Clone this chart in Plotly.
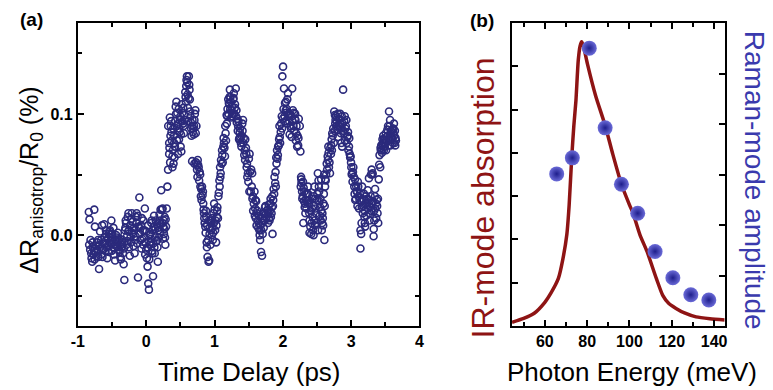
import plotly.graph_objects as go

# ---------------- Panel (a): anisotropic reflectivity vs time delay ----------------
delay_ps = [
    -0.84, -0.83, -0.82, -0.80, -0.78, -0.77, -0.76, -0.75, -0.74, -0.72, -0.70, -0.69,
    -0.66, -0.65, -0.64, -0.63, -0.61, -0.60, -0.59, -0.58, -0.56, -0.55, -0.54, -0.53,
    -0.51, -0.50, -0.49, -0.48, -0.47, -0.45, -0.44, -0.43, -0.42, -0.41, -0.40, -0.39,
    -0.38, -0.36, -0.35, -0.33, -0.32, -0.31, -0.30, -0.29, -0.28, -0.27, -0.26, -0.25,
    -0.24, -0.23, -0.22, -0.21, -0.19, -0.18, -0.17, -0.16, -0.15, -0.14, -0.12, -0.11,
    -0.10, -0.09, -0.07, -0.06, -0.05, -0.04, -0.02, -0.01, 0.00, 0.01, 0.02, 0.03,
    0.04, 0.05, 0.06, 0.07, 0.08, 0.09, 0.10, 0.11, 0.12, 0.13, 0.14, 0.16,
    0.17, 0.18, 0.19, 0.20, 0.21, 0.22, 0.23, 0.24, 0.25, 0.26, 0.27, 0.28,
    0.29, 0.31, 0.32,
    0.336, 0.336, 0.322, 0.346, 0.36, 0.37, 0.384, 0.384, 0.40, 0.41, 0.42, 0.432,
    0.442, 0.447, 0.456, 0.466, 0.48, 0.49, 0.495, 0.504, 0.514, 0.528, 0.538, 0.543,
    0.552, 0.567, 0.576, 0.586, 0.596, 0.60, 0.61, 0.624, 0.634, 0.639, 0.648, 0.658,
    0.672, 0.682, 0.696, 0.706, 0.72, 0.735, 0.672, 0.706, 0.744, 0.754, 0.768, 0.783,
    0.793, 0.80, 0.817, 0.83, 0.84, 0.85, 0.865, 0.879, 0.889, 0.898, 0.913, 0.922,
    0.927, 0.937, 0.946, 0.96, 0.975, 0.985, 0.994, 1.009, 1.023, 1.033, 1.042, 1.057,
    1.071, 1.081, 1.09, 1.105, 1.114, 1.129, 1.138, 1.153, 1.162, 1.177, 1.186, 1.201,
    1.21, 1.225, 1.234, 1.249, 1.258, 1.273, 1.282, 1.297, 1.311, 1.321, 1.335, 1.345,
    1.359, 1.369, 1.378, 1.393, 1.407, 1.417, 1.427, 1.441, 1.45, 1.465, 1.475, 1.489,
    1.503, 1.513, 1.537, 1.551, 1.561, 1.585, 1.599, 1.609, 1.619, 1.633, 1.647, 1.657,
    1.667, 1.681, 1.695, 1.705, 1.715, 1.729, 1.739, 1.753, 1.777, 1.792, 1.801, 1.816,
    1.825, 1.84, 1.849, 1.859, 1.873, 1.888, 1.897, 1.907, 1.921, 1.931, 1.945, 1.955,
    1.969, 1.984, 1.993, 2.003, 2.017, 2.032, 2.041, 2.051, 2.065, 2.075, 2.089, 2.099,
    2.113, 2.128, 2.137, 2.147, 2.161, 2.176, 2.185, 2.195, 2.209, 2.224, 2.233, 2.248,
    2.257, 2.267, 2.272, 2.281, 2.291, 2.305, 2.32, 2.33, 2.339, 2.354, 2.368, 2.378,
    2.387, 2.402, 2.416, 2.426, 2.435, 2.45, 2.464, 2.474, 2.488, 2.498, 2.512, 2.522,
    2.531, 2.546, 2.555, 2.57, 2.579, 2.594, 2.608, 2.618, 2.627, 2.642, 2.656, 2.666,
    2.675, 2.69, 2.704, 2.714, 2.723, 2.738, 2.752, 2.762, 2.771, 2.786, 2.80, 2.81,
    2.819, 2.834, 2.848, 2.858, 2.867, 2.882, 2.896, 2.906, 2.915, 2.93, 2.944, 2.954,
    2.968, 2.978, 2.992, 3.002, 3.012, 3.026, 3.04, 3.05, 3.06, 3.074, 3.088, 3.098,
    3.108, 3.122, 3.136, 3.136, 3.146, 3.156, 3.17, 3.184, 3.194, 3.204, 3.218, 3.232,
    3.242, 3.252, 3.266, 3.28, 3.29, 3.30, 3.314, 3.328, 3.338, 3.348, 3.362, 3.377,
    3.386, 3.396, 3.41, 3.425, 3.434, 3.444, 3.458, 3.473, 3.482, 3.492, 3.506, 3.516,
    3.53, 3.54, 3.554, 3.569, 3.578, 3.588, 3.602, 3.617, 3.626, 3.636, 3.65,
    # additional readings
    -0.835, -0.815, -0.805, -0.79, -0.785, -0.765, -0.755, -0.735, -0.725, -0.715,
    -0.705, -0.68, -0.675, -0.655, -0.645, -0.625, -0.615, -0.595, -0.585, -0.57,
    -0.565, -0.545, -0.535, -0.52, -0.515, -0.505, -0.495, -0.475, -0.465, -0.455,
    -0.435, -0.425, -0.415, -0.395, -0.385, -0.37, -0.365, -0.345, -0.34, -0.325,
    -0.305, -0.295, -0.275, -0.265, -0.255, -0.235, -0.225, -0.205, -0.2, -0.185,
    -0.175, -0.155, -0.145, -0.13, -0.125, -0.105, -0.085, -0.075, -0.065, -0.045,
    -0.035, -0.025, -0.015, 0.005, 0.015, 0.025, 0.045, 0.055, 0.065, 0.075,
    0.085, 0.095, 0.105, 0.115, 0.125, 0.135, 0.15, 0.155, 0.165, 0.175,
    0.185, 0.195, 0.205, 0.215, 0.235, 0.245, 0.255, 0.265, 0.275, 0.285,
    0.3,
    0.34, 0.35, 0.355, 0.365, 0.375, 0.39, 0.395, 0.405, 0.415, 0.425,
    0.437, 0.45, 0.46, 0.47, 0.475, 0.485, 0.5, 0.51, 0.52, 0.533,
    0.548, 0.558, 0.572, 0.58, 0.59, 0.605, 0.615, 0.62, 0.63, 0.643,
    0.653, 0.663, 0.677, 0.69, 0.70, 0.712, 0.725, 0.73, 0.74, 0.75,
    0.76, 0.775, 0.79, 0.805, 0.81, 0.825, 0.835, 0.845, 0.855, 0.87,
    0.875, 0.885, 0.893, 0.905, 0.917, 0.93, 0.94, 0.952, 0.965, 0.97,
    0.98, 0.99, 1.0, 1.015, 1.028, 1.038, 1.05, 1.063, 1.075, 1.085,
    1.095, 1.11, 1.12, 1.133, 1.145, 1.157, 1.168, 1.18, 1.19, 1.205,
    1.215, 1.22, 1.23, 1.24, 1.245, 1.255, 1.265, 1.278, 1.29, 1.30,
    1.315, 1.325, 1.34, 1.35, 1.365, 1.373, 1.385, 1.398, 1.41, 1.42,
    1.435, 1.447, 1.46, 1.47, 1.48, 1.495, 1.51, 1.52, 1.53, 1.545,
    1.555, 1.565, 1.575, 1.59, 1.595, 1.605, 1.615, 1.625, 1.64, 1.65,
    1.66, 1.672, 1.685, 1.69, 1.70, 1.71, 1.72, 1.735, 1.745, 1.76,
    1.77, 1.782, 1.79, 1.805, 1.81, 1.82, 1.835, 1.845, 1.855, 1.865,
    1.878, 1.893, 1.903, 1.915, 1.927, 1.94, 1.95, 1.96, 1.975, 1.988,
    2.0, 2.01, 2.025, 2.037, 2.045, 2.058, 2.07, 2.082, 2.094, 2.105,
    2.12, 2.132, 2.142, 2.155, 2.168, 2.18, 2.19, 2.2, 2.215, 2.228,
    2.262, 2.27, 2.285, 2.295, 2.31, 2.315, 2.325, 2.335, 2.345, 2.36,
    2.37, 2.383, 2.39, 2.408, 2.42, 2.43, 2.44, 2.455, 2.46, 2.47,
    2.48, 2.493, 2.505, 2.515, 2.527, 2.54, 2.55, 2.56, 2.575, 2.585,
    2.59, 2.6, 2.613, 2.62, 2.605, 2.56, 2.53, 2.45, 2.39, 2.30,
    2.635, 2.648, 2.66, 2.67, 2.683, 2.695, 2.708, 2.718, 2.73, 2.745,
    2.757, 2.767, 2.778, 2.79, 2.805, 2.815, 2.825, 2.84, 2.853, 2.862,
    2.875, 2.888, 2.90, 2.91, 2.922, 2.935, 2.948, 2.96, 2.972, 2.985,
    2.998, 3.008, 3.02, 3.032, 3.045, 3.055, 3.068, 3.08, 3.092, 3.104,
    3.115, 3.128, 3.14, 3.152, 3.162, 3.176, 3.188, 3.198, 3.21, 3.224,
    3.236, 3.246, 3.258, 3.27, 3.285, 3.295, 3.308, 3.32, 3.335, 3.352,
    3.366, 3.38, 3.392, 3.404, 3.35, 3.33, 3.31, 3.26, 3.20, 3.16,
    3.415, 3.43, 3.44, 3.45, 3.462, 3.47, 3.478, 3.487, 3.497, 3.51,
    3.52, 3.535, 3.545, 3.56, 3.565, 3.575, 3.583, 3.595, 3.608, 3.62,
    3.63, 3.64, 3.645, 3.655,
]
delta_r_pct = [
    0.019, 0.013, -0.012, -0.019, -0.010, -0.016, 0.021, 0.007, -0.014, -0.006, -0.018, -0.028,
    -0.004, -0.011, -0.018, -0.012, -0.002, -0.007, 0.004, -0.010, -0.003, 0.001, -0.006, 0.004,
    0.012, 0.001, -0.010, 0.006, -0.016, -0.004, 0.000, -0.002, -0.010, -0.006, -0.004, -0.014,
    -0.018, -0.010, -0.006, -0.024, -0.037, 0.004, 0.012, -0.008, -0.001, 0.015, 0.018, 0.004,
    -0.017, -0.002, 0.013, 0.018, 0.001, 0.006, -0.015, -0.004, 0.015, 0.018, -0.035, 0.007,
    0.031, 0.001, -0.011, -0.003, 0.004, 0.012, 0.022, -0.006, -0.012, -0.019, -0.026, -0.040,
    -0.045, -0.008, 0.001, -0.003, 0.012, -0.015, -0.034, 0.007, -0.010, -0.002, 0.012, -0.004,
    -0.022, 0.004, 0.010, 0.012, 0.021, 0.037, 0.021, 0.022, 0.007, 0.001, 0.015, -0.008,
    0.007, 0.040, 0.054,
    0.067, 0.076, 0.090, 0.097, 0.090, 0.085, 0.065, 0.056, 0.059, 0.076, 0.073, 0.106,
    0.110, 0.090, 0.101, 0.067, 0.079, 0.085, 0.095, 0.073, 0.069, 0.101, 0.092, 0.105,
    0.084, 0.095, 0.114, 0.123, 0.131, 0.126, 0.105, 0.131, 0.120, 0.112, 0.098, 0.088,
    0.090, 0.085, 0.083, 0.095, 0.103, 0.090, 0.061, 0.059, 0.054, 0.062, 0.056, 0.052,
    0.040, 0.032, 0.040, 0.036, 0.021, 0.014, 0.007, 0.015, -0.010, -0.018, -0.022, -0.021,
    0.001, 0.012, 0.004, 0.000, -0.004, 0.018, 0.026, 0.004, -0.006, 0.015, 0.023, 0.032,
    0.045, 0.056, 0.051, 0.059, 0.066, 0.073, 0.076, 0.065, 0.084, 0.099, 0.098, 0.112,
    0.109, 0.120, 0.114, 0.103, 0.098, 0.112, 0.117, 0.105, 0.121, 0.103, 0.096, 0.090,
    0.079, 0.085, 0.081, 0.073, 0.092, 0.095, 0.080, 0.070, 0.079, 0.067, 0.059, 0.051,
    0.063, 0.067, 0.054, 0.051, 0.032, 0.036, 0.029, 0.028, 0.018, 0.012, 0.010, 0.004,
    -0.004, -0.014, -0.017, 0.001, 0.012, 0.018, 0.023, 0.018, 0.021, 0.025, 0.014, 0.026,
    0.015, 0.023, 0.001, 0.029, 0.034, 0.043, 0.040, 0.059, 0.063, 0.073, 0.079, 0.081,
    0.085, 0.098, 0.131, 0.139, 0.121, 0.109, 0.103, 0.101, 0.112, 0.117, 0.098, 0.083,
    0.090, 0.081, 0.121, 0.103, 0.101, 0.096, 0.095, 0.084, 0.073, 0.074, 0.096, 0.090,
    0.069, 0.048, 0.043, 0.036, 0.032, 0.039, 0.023, 0.018, 0.029, 0.034, 0.040, 0.029,
    0.018, 0.007, 0.001, 0.022, 0.015, 0.032, 0.040, 0.030, 0.018, 0.029, 0.051, 0.045,
    0.036, 0.023, 0.012, 0.004, 0.018, 0.026, -0.004, 0.040, 0.045, 0.059, 0.065, 0.073,
    0.056, 0.051, 0.067, 0.079, 0.084, 0.088, 0.102, 0.099, 0.095, 0.090, 0.087, 0.081,
    0.090, 0.092, 0.084, 0.076, 0.073, 0.120, 0.084, 0.098, 0.088, 0.095, 0.081, 0.085,
    0.073, 0.067, 0.065, 0.056, 0.051, 0.052, 0.048, 0.034, 0.029, 0.040, 0.036, 0.044,
    0.032, 0.029, 0.004, -0.011, 0.001, 0.023, 0.018, 0.029, 0.015, 0.007, 0.032, 0.026,
    0.037, 0.029, 0.018, 0.023, 0.050, 0.054, 0.051, -0.001, 0.012, 0.032, 0.026, 0.029,
    0.018, 0.010, 0.058, 0.056, 0.070, 0.070, 0.079, 0.076, 0.079, 0.073, 0.084, 0.081,
    0.087, 0.090, 0.102, 0.095, 0.084, 0.081, 0.087, 0.088, 0.092, 0.076, 0.080,
    # additional readings
    -0.008, -0.004, -0.015, -0.022, -0.006, -0.013, -0.020, -0.009, -0.017, -0.012,
    -0.004, -0.008, 0.003, -0.016, 0.008, -0.006, 0.009, -0.013, 0.001, -0.019,
    -0.009, -0.014, 0.003, -0.007, -0.002, -0.013, -0.004, -0.008, -0.011, -0.021,
    -0.005, -0.009, 0.002, -0.012, -0.003, -0.020, -0.008, -0.004, -0.015, -0.011,
    0.006, 0.010, -0.005, 0.003, -0.010, 0.008, -0.006, 0.002, 0.011, -0.009,
    0.004, -0.001, 0.010, -0.007, 0.016, 0.006, -0.004, 0.008, 0.014, -0.008,
    -0.002, 0.004, -0.016, 0.003, -0.010, 0.008, -0.020, 0.000, -0.006, 0.010,
    -0.013, 0.004, -0.007, 0.016, -0.015, 0.005, -0.005, 0.009, -0.010, 0.006,
    -0.002, 0.017, 0.003, 0.009, 0.010, -0.003, 0.012, 0.005, -0.002, 0.013,
    0.022,
    0.072, 0.060, 0.082, 0.094, 0.078, 0.070, 0.088, 0.082, 0.064, 0.094,
    0.100, 0.078, 0.086, 0.092, 0.104, 0.088, 0.098, 0.083, 0.108, 0.094,
    0.090, 0.099, 0.118, 0.110, 0.128, 0.116, 0.094, 0.113, 0.124, 0.102,
    0.093, 0.082, 0.095, 0.088, 0.090, 0.100, 0.084, 0.060, 0.058, 0.048,
    0.058, 0.045, 0.050, 0.038, 0.029, 0.033, 0.026, 0.018, 0.010, 0.002,
    0.020, -0.006, 0.008, -0.004, 0.012, 0.006, -0.008, 0.010, 0.014, 0.006,
    0.002, 0.010, 0.021, 0.012, 0.008, 0.020, 0.014, 0.035, 0.040, 0.048,
    0.062, 0.070, 0.060, 0.080, 0.072, 0.090, 0.078, 0.092, 0.104, 0.100,
    0.108, 0.114, 0.104, 0.110, 0.097, 0.106, 0.100, 0.113, 0.100, 0.108,
    0.098, 0.093, 0.086, 0.094, 0.080, 0.088, 0.076, 0.082, 0.086, 0.076,
    0.066, 0.062, 0.072, 0.056, 0.048, 0.044, 0.036, 0.052, 0.036, 0.040,
    0.030, 0.020, 0.026, 0.016, 0.022, 0.014, 0.008, 0.020, 0.006, 0.016,
    0.000, 0.008, 0.004, 0.014, 0.010, 0.018, 0.006, 0.012, 0.024, 0.015,
    0.020, 0.010, 0.018, 0.012, 0.020, 0.030, 0.018, 0.032, 0.024, 0.038,
    0.048, 0.052, 0.064, 0.070, 0.066, 0.074, 0.090, 0.076, 0.092, 0.088,
    0.096, 0.104, 0.098, 0.094, 0.110, 0.104, 0.092, 0.100, 0.094, 0.100,
    0.088, 0.098, 0.094, 0.090, 0.086, 0.100, 0.078, 0.090, 0.082, 0.080,
    0.040, 0.046, 0.030, 0.044, 0.028, 0.036, 0.026, 0.034, 0.022, 0.028,
    0.034, 0.026, 0.012, 0.020, 0.010, 0.030, 0.004, 0.024, 0.012, 0.008,
    0.022, 0.010, 0.034, 0.004, 0.040, 0.016, 0.030, 0.020, 0.010, 0.014,
    0.008, 0.034, 0.024, 0.046, 0.050, 0.046, 0.028, 0.000, 0.002, 0.010,
    0.050, 0.054, 0.062, 0.068, 0.060, 0.072, 0.074, 0.070, 0.082, 0.076,
    0.086, 0.092, 0.098, 0.094, 0.100, 0.096, 0.090, 0.100, 0.088, 0.098,
    0.092, 0.086, 0.094, 0.078, 0.090, 0.076, 0.082, 0.070, 0.080, 0.064,
    0.060, 0.050, 0.044, 0.056, 0.040, 0.046, 0.030, 0.036, 0.024, 0.040,
    0.022, 0.034, 0.028, 0.010, 0.030, 0.024, 0.034, 0.020, 0.026, 0.016,
    0.030, 0.022, 0.024, 0.012, 0.032, 0.020, 0.026, 0.028, 0.020, 0.022,
    0.014, 0.024, 0.030, 0.046, 0.038, 0.005, 0.050, 0.047, 0.010, 0.040,
    0.066, 0.072, 0.074, 0.068, 0.074, 0.082, 0.070, 0.078, 0.076, 0.070,
    0.078, 0.082, 0.074, 0.078, 0.090, 0.074, 0.086, 0.080, 0.076, 0.084,
    0.082, 0.086, 0.074, 0.078,
]

# ---------------- Panel (b): IR absorption curve and Raman amplitudes ----------------
ir_energy_mev = [44.5, 50, 55, 60, 63, 66.4, 68.5, 70.4, 71.5, 72.7, 73.7, 74.7, 75.8, 76.7,
                 77.4, 78.2, 80.1, 84, 88.5, 92, 96.2, 100, 101.7, 105, 108.3, 112.7, 115.8,
                 118.5, 122, 126, 131.5, 138, 145]
ir_absorption = [0.012, 0.025, 0.042, 0.078, 0.11, 0.157, 0.22, 0.302, 0.40, 0.555, 0.66, 0.744,
                 0.877, 0.925, 0.938, 0.925, 0.866, 0.76, 0.662, 0.57, 0.468, 0.40, 0.372, 0.30,
                 0.246, 0.157, 0.10, 0.075, 0.058, 0.043, 0.03, 0.024, 0.02]

raman_energy_mev = [65.6, 73.0, 81.0, 88.5, 96.2, 103.9, 112.1, 120.5, 129.0, 137.5]
raman_amplitude = [0.502, 0.555, 0.917, 0.654, 0.468, 0.372, 0.246, 0.159, 0.103, 0.086]

# tick labels
delay_tickvals = [-1, 0, 1, 2, 3, 4]
delay_ticktext = ["-1", "0", "1", "2", "3", "4"]

W, H = 773, 390
FONT = "Liberation Sans, Arial, sans-serif"
NAVY = "#2b2a7c"
DARKRED = "#8e1414"
BLUE = "#3a3aad"

def px_x(p):
    return p / W

def px_y(p):
    return 1 - p / H

fig = go.Figure()

fig.add_trace(go.Scatter(
    x=delay_ps, y=delta_r_pct, mode="markers", xaxis="x", yaxis="y",
    marker=dict(symbol="circle-open", size=7, color=NAVY, line=dict(width=1.6, color=NAVY)),
    showlegend=False, hoverinfo="skip"))

fig.add_trace(go.Scatter(
    x=ir_energy_mev, y=ir_absorption, mode="lines", xaxis="x2", yaxis="y2",
    line=dict(color=DARKRED, width=3.5, shape="spline", smoothing=0.6),
    showlegend=False, hoverinfo="skip"))

fig.add_trace(go.Scatter(
    x=raman_energy_mev, y=raman_amplitude, mode="markers", xaxis="x2", yaxis="y3",
    marker=dict(size=15, color="#6b6bd8", line=dict(width=0),
                gradient=dict(type="radial", color="#1e1e8c")),
    showlegend=False, hoverinfo="skip"))

axis_common = dict(showline=True, linecolor="black", linewidth=2, showgrid=False,
                   zeroline=False, ticks="inside", ticklen=6, tickwidth=1.5, tickcolor="black",
                   tickfont=dict(family=FONT, size=16, color="black", weight="bold"))

yd = [px_y(326), px_y(23)]

fig.update_layout(
    width=W, height=H, margin=dict(l=0, r=0, t=0, b=0),
    paper_bgcolor="white", plot_bgcolor="white",
    xaxis=dict(domain=[px_x(72), px_x(419)], range=[-1, 4], anchor="y", mirror="ticks",
               tickmode="array", tickvals=delay_tickvals, ticktext=delay_ticktext,
               minor=dict(dtick=0.5, tick0=0, ticks="inside", ticklen=4, tickwidth=1.5,
                          tickcolor="black"),
               **axis_common),
    yaxis=dict(domain=yd, range=[-0.075, 0.175], anchor="x", mirror="ticks",
               tickmode="linear", tick0=0, dtick=0.1, tickformat=".1f",
               minor=dict(dtick=0.05, tick0=0, ticks="inside", ticklen=4, tickwidth=1.5,
                          tickcolor="black"),
               **axis_common),
    xaxis2=dict(domain=[px_x(513), px_x(729)], range=[44.5, 145], anchor="y2", mirror="ticks",
                tickmode="linear", tick0=60, dtick=20,
                minor=dict(dtick=10, tick0=50, ticks="inside", ticklen=4, tickwidth=1.5,
                           tickcolor="black"),
                **axis_common),
    yaxis2=dict(domain=yd, range=[0, 1], anchor="x2", tickmode="linear", tick0=0, dtick=1/7,
                showticklabels=False, **axis_common),
    yaxis3=dict(domain=yd, range=[0, 1], anchor="x2", overlaying="y2", side="right",
                tickmode="linear", tick0=0, dtick=1/6, showticklabels=False, **axis_common),
)

ann = []
def label(text, x, y, size, color="black", angle=0, bold=False):
    ann.append(dict(text=text, x=px_x(x), y=px_y(y), xref="paper", yref="paper",
                    showarrow=False, textangle=angle, xanchor="center", yanchor="middle",
                    font=dict(family=FONT, size=size, color=color,
                              weight="bold" if bold else "normal")))

label("(a)", 25, 19, 19, bold=True)
label("(b)", 482, 20, 19, bold=True)
label("Time Delay (ps)", 246, 372, 26)
label("Photon Energy (meV)", 635, 372, 26)
label("ΔR<sub>anisotrop</sub>/R<sub>0</sub> (%)", 24, 180, 25, angle=-90)
label("IR-mode absorption", 484, 198, 32, color=DARKRED, angle=-90)
label("Raman-mode amplitude", 760, 180, 28, color=BLUE, angle=90)
fig.update_layout(annotations=ann)

fig.write_html("out.html")
